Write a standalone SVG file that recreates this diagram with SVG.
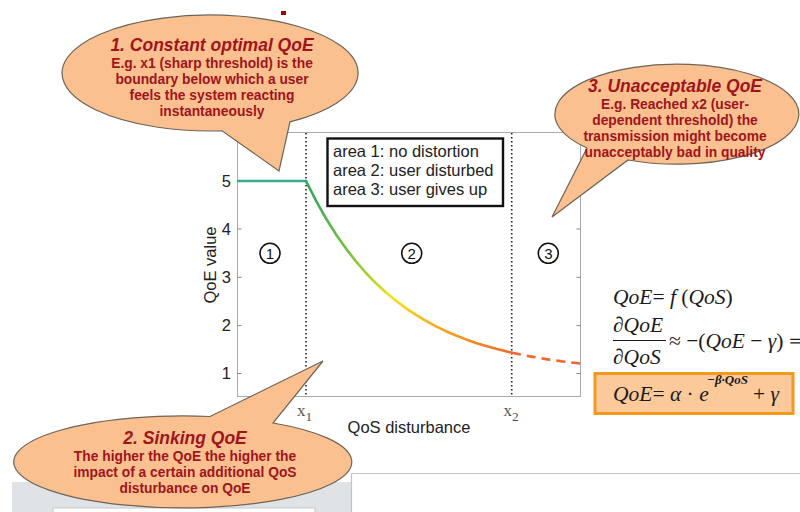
<svg xmlns="http://www.w3.org/2000/svg" width="800" height="512" viewBox="0 0 800 512">
<defs>
<linearGradient id="curveGrad" gradientUnits="userSpaceOnUse" x1="238" y1="0" x2="580" y2="0">
<stop offset="0" stop-color="#3aa88e"/>
<stop offset="0.2" stop-color="#2fa860"/>
<stop offset="0.33" stop-color="#7cc23a"/>
<stop offset="0.45" stop-color="#f0e416"/>
<stop offset="0.6" stop-color="#f6a21e"/>
<stop offset="0.8" stop-color="#f26a2a"/>
<stop offset="1" stop-color="#f2602a"/>
</linearGradient>
</defs>
<style>
.callout{fill:#fac08f;stroke:#6e6458;stroke-width:1.2}
.ctitle{font-family:"Liberation Sans",Arial,sans-serif;font-weight:bold;font-style:italic;font-size:17.5px;fill:#a0141c;text-anchor:middle}
.cbody{font-family:"Liberation Sans",Arial,sans-serif;font-weight:bold;font-size:13.8px;fill:#a0141c;text-anchor:middle}
.axis{fill:none;stroke:#aaaaaa;stroke-width:1}
.tick{stroke:#888;stroke-width:1}
.lbl{font-family:"Liberation Sans",Arial,sans-serif;font-size:16.5px;fill:#222}
.dots{stroke:#222;stroke-width:1.6;stroke-dasharray:1.4 2.6}
.xsub{font-family:"Liberation Serif","Times New Roman",serif;fill:#555}
.circ{fill:none;stroke:#111;stroke-width:1.6}
.cnum{font-family:"Liberation Sans",Arial,sans-serif;font-size:15px;fill:#111;text-anchor:middle}
.math{font-family:"Liberation Serif","Times New Roman",serif;font-style:italic;font-size:21.5px;fill:#1a1a1a}
.mup{font-style:normal}
.msup{font-family:"Liberation Serif","Times New Roman",serif;font-style:italic;font-weight:bold;font-size:13px;fill:#1a1a1a}
</style>

<g id="slide-background">
<rect x="12" y="482" width="339.5" height="30" fill="#dfe3e5"/>
<rect x="53" y="508" width="262" height="6" fill="#ffffff" stroke="#c8c8c8" stroke-width="1"/>
<path d="M800 473.5 H351.5 V512" fill="none" stroke="#c4c4c4" stroke-width="1.2"/>
<rect x="281" y="11" width="5" height="4" fill="#a00000"/>
</g>

<g id="plot">
<rect x="237.5" y="132.5" width="343" height="264" fill="#ffffff" class="axis"/>
<g id="ticks">
<line class="tick" x1="237.5" y1="181" x2="241.5" y2="181"/>
<line class="tick" x1="237.5" y1="229" x2="241.5" y2="229"/>
<line class="tick" x1="237.5" y1="277.3" x2="241.5" y2="277.3"/>
<line class="tick" x1="237.5" y1="325.6" x2="241.5" y2="325.6"/>
<line class="tick" x1="237.5" y1="373.5" x2="241.5" y2="373.5"/>
<line class="tick" x1="576.5" y1="181" x2="580.5" y2="181"/>
<line class="tick" x1="576.5" y1="229" x2="580.5" y2="229"/>
<line class="tick" x1="576.5" y1="277.3" x2="580.5" y2="277.3"/>
<line class="tick" x1="576.5" y1="325.6" x2="580.5" y2="325.6"/>
<line class="tick" x1="576.5" y1="373.5" x2="580.5" y2="373.5"/>
</g>
<g id="tick-labels" class="lbl" text-anchor="end">
<text x="231" y="186.5">5</text>
<text x="231" y="234.5">4</text>
<text x="231" y="282.8">3</text>
<text x="231" y="331.1">2</text>
<text x="231" y="379">1</text>
</g>
<text class="lbl" text-anchor="middle" transform="translate(216 265) rotate(-90)">QoE value</text>
<text class="lbl" x="409" y="433" text-anchor="middle">QoS disturbance</text>
<line class="dots" x1="306" y1="133" x2="306" y2="396"/>
<line class="dots" x1="511.7" y1="133" x2="511.7" y2="396"/>
<text class="xsub" x="297" y="416" font-size="17">x<tspan font-size="13.5" dy="4.5">1</tspan></text>
<text class="xsub" x="503.5" y="416" font-size="17">x<tspan font-size="13.5" dy="4.5">2</tspan></text>
<g id="curve" fill="none" stroke="url(#curveGrad)" stroke-width="2.6" stroke-linejoin="round" stroke-linecap="round">
<line x1="238" y1="181" x2="306" y2="181" stroke="#3aa88e"/>
<polyline points="306,181 316,200.7 326,218.5 336,234.4 346,248.6 356,261.4 366,273 376,283.3 386,292.5 396,300.8 406,308.3 416,314.9 426,320.9 436,326.3 446,331.2 456,335.5 466,339.4 476,342.9 486,346 496,348.8 506,351.3 512,352.7"/>
</g>
<polyline points="512,352.7 530,356.4 546,359.1 562,361.4 580,363.5" fill="none" stroke="#f2652c" stroke-width="2.6" stroke-dasharray="9 6"/>
<g id="area-markers">
<circle class="circ" cx="270" cy="253.3" r="10"/>
<text class="cnum" x="270" y="258.6">1</text>
<circle class="circ" cx="411.7" cy="253.3" r="10"/>
<text class="cnum" x="411.7" y="258.6">2</text>
<circle class="circ" cx="548.3" cy="253.3" r="10"/>
<text class="cnum" x="548.3" y="258.6">3</text>
</g>
</g>

<g id="legend">
<rect x="327.5" y="138.5" width="175.5" height="67.5" fill="#ffffff" stroke="#111" stroke-width="2.4"/>
<text class="lbl" x="333" y="157">area 1: no distortion</text>
<text class="lbl" x="333" y="176">area 2: user disturbed</text>
<text class="lbl" x="333" y="195">area 3: user gives up</text>
</g>

<g id="callout-1">
<path class="callout" d="M290 121.8 A148 58 0 1 0 222 130.8 L279 171 Z"/>
<text class="ctitle" x="212" y="51">1. Constant optimal QoE</text>
<text class="cbody" x="212" y="67.5">E.g. x1 (sharp threshold) is the</text>
<text class="cbody" x="212" y="83.5">boundary below which a user</text>
<text class="cbody" x="212" y="99.5">feels the system reacting</text>
<text class="cbody" x="212" y="115.5">instantaneously</text>
</g>

<g id="callout-3">
<path class="callout" d="M628 160 A122 50 0 1 0 587 148 L552 217 Z"/>
<text class="ctitle" x="675" y="92">3. Unacceptable QoE</text>
<text class="cbody" x="675" y="108.5">E.g. Reached x2 (user-</text>
<text class="cbody" x="675" y="124.5">dependent threshold) the</text>
<text class="cbody" x="675" y="140.5">transmission might become</text>
<text class="cbody" x="675" y="156.5">unacceptably bad in quality</text>
</g>

<g id="callout-2">
<path class="callout" d="M210 416.5 A169 46 0 1 0 273 423 L323 361 Z"/>
<text class="ctitle" x="185" y="444">2. Sinking QoE</text>
<text class="cbody" x="185" y="461">The higher the QoE the higher the</text>
<text class="cbody" x="185" y="477">impact of a certain additional QoS</text>
<text class="cbody" x="185" y="493">disturbance on QoE</text>
</g>

<g id="formulas">
<text class="math" x="613" y="304">QoE<tspan class="mup">=</tspan> f <tspan class="mup">(</tspan>QoS<tspan class="mup">)</tspan></text>
<text class="math" x="613" y="332">∂QoE</text>
<line x1="613" y1="340.5" x2="666" y2="340.5" stroke="#1a1a1a" stroke-width="1.2"/>
<text class="math" x="613" y="364">∂QoS</text>
<text class="math" x="669" y="348"><tspan class="mup">≈ −(</tspan>QoE<tspan class="mup"> − </tspan>γ<tspan class="mup">) ⇒</tspan></text>
<g id="result-box">
<rect x="595" y="373.5" width="198" height="40" fill="#fcc99b" stroke="#f39a1e" stroke-width="3"/>
<text class="math" x="613" y="401">QoE<tspan class="mup">= </tspan>α<tspan class="mup"> · </tspan>e</text>
<text class="msup" x="707" y="384">−β·QoS</text>
<text class="math" x="753" y="401"><tspan class="mup">+ </tspan>γ</text>
</g>
</g>
</svg>
